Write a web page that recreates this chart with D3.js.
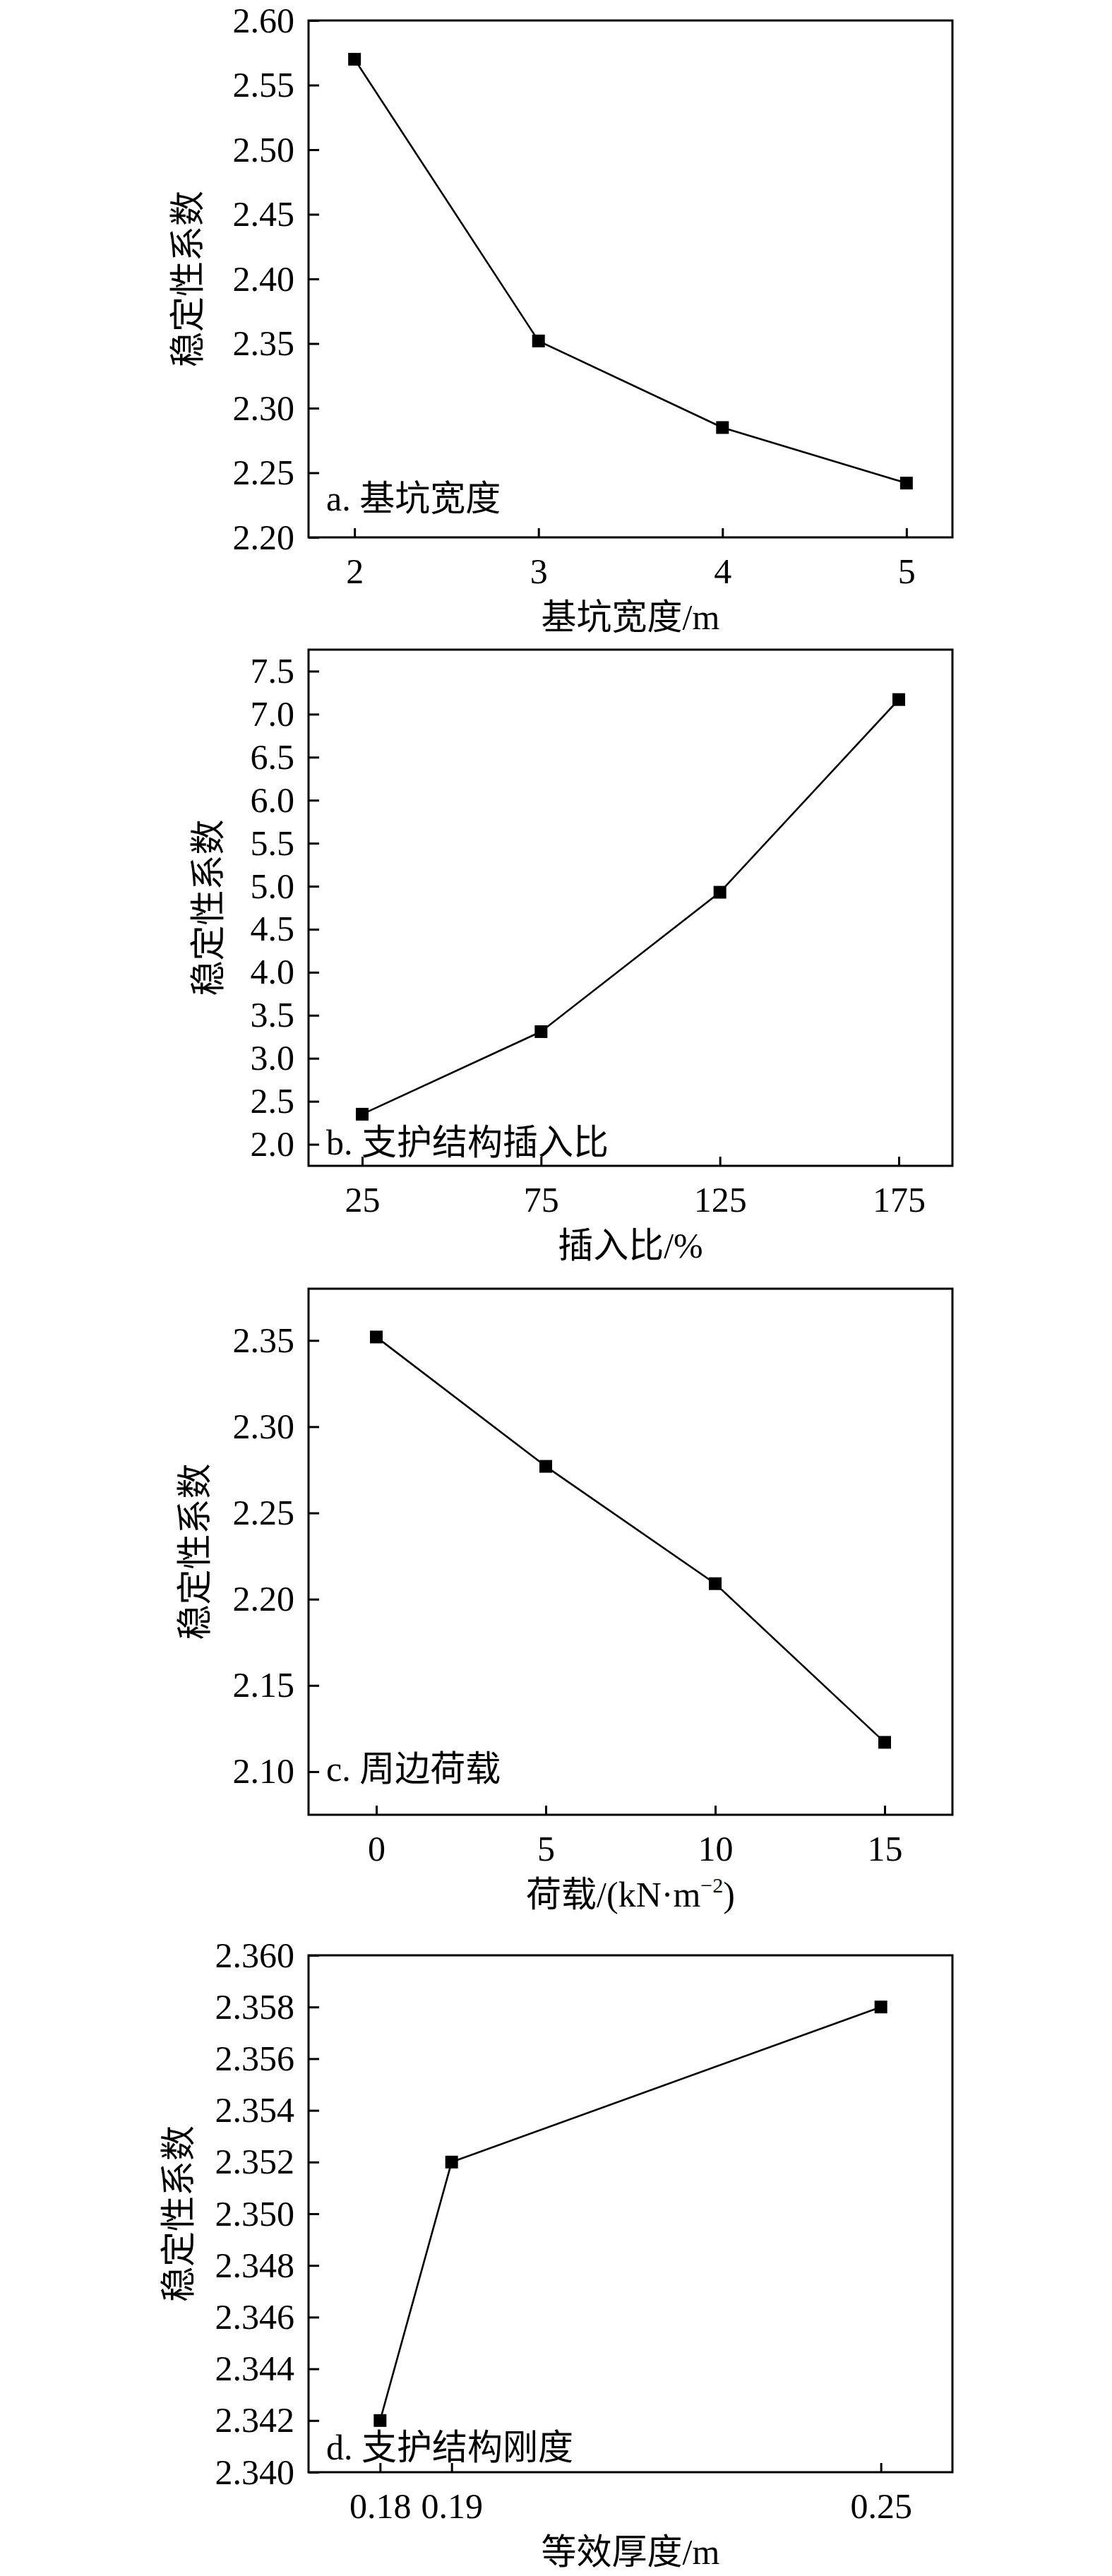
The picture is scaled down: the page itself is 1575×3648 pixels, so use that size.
<!DOCTYPE html>
<html>
<head>
<meta charset="utf-8">
<script src="https://cdn.jsdelivr.net/npm/d3@7/dist/d3.min.js"></script>
<style>
  body { margin: 0; background: #fff; }
  text { font-family: "Liberation Serif", "Times New Roman", "Noto Sans CJK SC", serif; fill: #000; }
</style>
</head>
<body>
<div id="chart"></div>
<script>
// panel a: excavation width
var widthX = [2, 3, 4, 5];
var widthY = [2.570, 2.352, 2.285, 2.242];
var widthXTicks = [2, 3, 4, 5];
var widthYTicks = [2.20, 2.25, 2.30, 2.35, 2.40, 2.45, 2.50, 2.55, 2.60];

// panel b: embedment ratio
var ratioX = [25, 75, 125, 175];
var ratioY = [2.35, 3.31, 4.93, 7.17];
var ratioXTicks = [25, 75, 125, 175];
var ratioYTicks = [2.0, 2.5, 3.0, 3.5, 4.0, 4.5, 5.0, 5.5, 6.0, 6.5, 7.0, 7.5];

// panel c: surcharge load
var loadX = [0, 5, 10, 15];
var loadY = [2.352, 2.277, 2.209, 2.117];
var loadXTicks = [0, 5, 10, 15];
var loadYTicks = [2.10, 2.15, 2.20, 2.25, 2.30, 2.35];

// panel d: wall stiffness
var thickX = [0.18, 0.19, 0.25];
var thickY = [2.342, 2.352, 2.358];
var thickXTicks = [0.18, 0.19, 0.25];
var thickYTicks = [2.340, 2.342, 2.344, 2.346, 2.348, 2.350, 2.352, 2.354, 2.356, 2.358, 2.360];

var yTitle = "稳定性系数";

var svgWidth = 1575;
var svgHeight = 3648;
var left = 437, right = 1349;

var svg = d3.select("#chart")
  .append("svg")
  .attr("width", svgWidth)
  .attr("height", svgHeight);

svg.append("rect").attr("width", svgWidth).attr("height", svgHeight).attr("fill", "#fff");

var panels = [
  {x: widthX, y: widthY, xTicks: widthXTicks, yTicks: widthYTicks, xDom: [1.75, 5.25], yDom: [2.20, 2.60],
   top: 29, bottom: 761, yFmt: ".2f", xFmt: "d", label: "a. 基坑宽度", labelY: 723, yTitleX: 265,
   xTitle: ["基坑宽度/m"]},
  {x: ratioX, y: ratioY, xTicks: ratioXTicks, yTicks: ratioYTicks, xDom: [10, 190], yDom: [1.75, 7.75],
   top: 920, bottom: 1651, yFmt: ".1f", xFmt: "d", label: "b. 支护结构插入比", labelY: 1635, yTitleX: 294,
   xTitle: ["插入比/%"]},
  {x: loadX, y: loadY, xTicks: loadXTicks, yTicks: loadYTicks, xDom: [-2, 17], yDom: [2.075, 2.38],
   top: 1825, bottom: 2570, yFmt: ".2f", xFmt: "d", label: "c. 周边荷载", labelY: 2522, yTitleX: 275,
   xTitle: ["荷载/(kN·m", "−2", ")"]},
  {x: thickX, y: thickY, xTicks: thickXTicks, yTicks: thickYTicks, xDom: [0.17, 0.26], yDom: [2.340, 2.360],
   top: 2769, bottom: 3501, yFmt: ".3f", xFmt: ".2f", label: "d. 支护结构刚度", labelY: 3483, yTitleX: 252,
   xTitle: ["等效厚度/m"]}
];

panels.forEach(function(p) {
  var xScale = d3.scaleLinear().domain(p.xDom).range([left, right]);
  var yScale = d3.scaleLinear().domain(p.yDom).range([p.bottom, p.top]);
  var g = svg.append("g");

  var xAxis = g.append("g")
    .attr("transform", `translate(0, ${p.bottom})`)
    .call(d3.axisBottom(xScale)
      .tickValues(p.xTicks)
      .tickFormat(d3.format(p.xFmt))
      .tickSizeInner(-13)
      .tickSizeOuter(0)
      .tickPadding(29));

  var yAxis = g.append("g")
    .attr("transform", `translate(${left}, 0)`)
    .call(d3.axisLeft(yScale)
      .tickValues(p.yTicks)
      .tickFormat(d3.format(p.yFmt))
      .tickSizeInner(-15)
      .tickSizeOuter(0)
      .tickPadding(20));

  [xAxis, yAxis].forEach(function(ax) {
    ax.select(".domain").remove();
    ax.selectAll(".tick line").attr("stroke", "#000").attr("stroke-width", 3);
    ax.selectAll(".tick text")
      .style("font-family", "'Liberation Serif', 'Times New Roman', serif")
      .style("font-size", "50px")
      .attr("fill", "#000");
  });

  // frame
  g.append("rect")
    .attr("x", left)
    .attr("y", p.top)
    .attr("width", right - left)
    .attr("height", p.bottom - p.top)
    .attr("fill", "none")
    .attr("stroke", "#000")
    .attr("stroke-width", 3);

  var pts = p.x.map(function(d, i) { return [d, p.y[i]]; });

  var line = d3.line()
    .x(d => xScale(d[0]))
    .y(d => yScale(d[1]));

  g.append("path")
    .datum(pts)
    .attr("d", line)
    .attr("fill", "none")
    .attr("stroke", "#000")
    .attr("stroke-width", 2.6);

  g.selectAll("rect.marker")
    .data(pts)
    .enter()
    .append("rect")
    .attr("class", "marker")
    .attr("x", d => xScale(d[0]) - 9)
    .attr("y", d => yScale(d[1]) - 9)
    .attr("width", 18)
    .attr("height", 18)
    .attr("fill", "#000");

  // panel label
  g.append("text")
    .attr("x", 462)
    .attr("y", p.labelY)
    .style("font-size", "50px")
    .text(p.label);

  // y title
  g.append("text")
    .attr("transform", `translate(${p.yTitleX}, ${(p.top + p.bottom) / 2}) rotate(-90)`)
    .attr("text-anchor", "middle")
    .attr("dy", "0.35em")
    .style("font-size", "50px")
    .text(yTitle);

  // x title
  var xt = g.append("text")
    .attr("x", (left + right) / 2)
    .attr("y", p.bottom + 130)
    .attr("text-anchor", "middle")
    .style("font-size", "50px");
  xt.append("tspan").text(p.xTitle[0]);
  if (p.xTitle.length > 1) {
    xt.append("tspan").attr("dy", -20).style("font-size", "30px").text(p.xTitle[1]);
    xt.append("tspan").attr("dy", 20).text(p.xTitle[2]);
  }
});
</script>
</body>
</html>
